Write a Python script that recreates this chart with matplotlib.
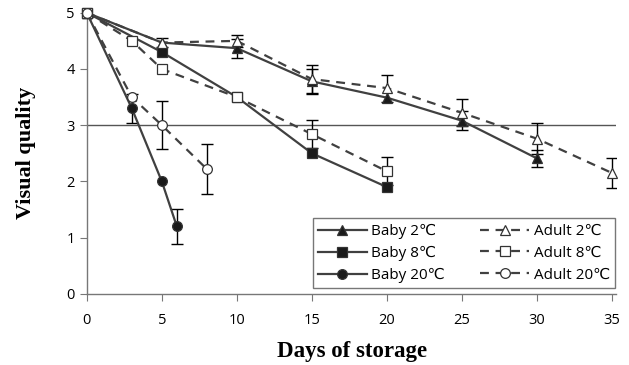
import numpy as np
from matplotlib import pyplot as plt

plt.rcParams['font.family'] = ['Open Sans', 'DejaVu Sans']

## Data ##
days_b2 = [0, 5, 10, 15, 20, 25, 30]
baby_2 = [5, 4.47, 4.37, 3.78, 3.49, 3.08, 2.41]
err_b2 = [0, 0, 0.17, 0.22, 0, 0.17, 0.15]

days_a2 = [0, 5, 10, 15, 20, 25, 30, 35]
adult_2 = [5, 4.47, 4.5, 3.82, 3.66, 3.22, 2.76, 2.15]
err_a2 = [0, 0.08, 0.1, 0.25, 0.24, 0.24, 0.28, 0.27]

days_b8 = [0, 5, 10, 15, 20]
baby_8 = [5, 4.3, 3.5, 2.5, 1.9]
err_b8 = [0, 0, 0, 0, 0]

days_a8 = [0, 3, 5, 10, 15, 20]
adult_8 = [5, 4.5, 4.0, 3.5, 2.84, 2.18]
err_a8 = [0, 0, 0, 0, 0.25, 0.25]

days_b20 = [0, 3, 5, 6]
baby_20 = [5, 3.3, 2.0, 1.2]
err_b20 = [0, 0.26, 0, 0.31]

days_a20 = [0, 3, 5, 8]
adult_20 = [5, 3.5, 3.0, 2.22]
err_a20 = [0, 0, 0.43, 0.44]

## Plotting ##
fig = plt.figure(figsize=(6.29, 3.65), dpi=100)
ax = fig.add_axes([0.138, 0.195, 0.842, 0.77])

ax.axhline(3, color='#555555', lw=1.0, zorder=1)

grey = '#404040'
series = [
    (days_b2, baby_2, err_b2, '^', 'black', '-', 'Baby 2\u2103'),
    (days_b8, baby_8, err_b8, 's', 'black', '-', 'Baby 8\u2103'),
    (days_b20, baby_20, err_b20, 'o', 'black', '-', 'Baby 20\u2103'),
    (days_a2, adult_2, err_a2, '^', 'white', (0, (4, 3)), 'Adult 2\u2103'),
    (days_a8, adult_8, err_a8, 's', 'white', (0, (4, 3)), 'Adult 8\u2103'),
    (days_a20, adult_20, err_a20, 'o', 'white', (0, (4, 3)), 'Adult 20\u2103'),
]

handles = []
for x, y, e, m, fc, ls, lab in series:
    x = np.array(x)
    y = np.array(y)
    e = np.array(e)
    mask = e > 0
    ax.errorbar(x[mask], y[mask], yerr=e[mask], fmt='none', ecolor='black',
                elinewidth=1.0, capsize=4, capthick=1.0, zorder=2)
    h, = ax.plot(x, y, color=grey, lw=1.6, ls=ls, marker=m, markersize=7,
                 markerfacecolor=fc if fc == 'white' else '#1a1a1a',
                 markeredgecolor='#333333', markeredgewidth=0.9,
                 label=lab, clip_on=False, zorder=3)
    handles.append(h)

ax.set_xlim(0, 35.3)
ax.set_ylim(0, 5)
ax.set_xticks(np.arange(0, 36, 5))
ax.set_yticks(np.arange(0, 6, 1))
for s in ['top', 'right']:
    ax.spines[s].set_visible(False)
for s in ['left', 'bottom']:
    ax.spines[s].set_color('#777777')
    ax.spines[s].set_linewidth(1.0)
ax.tick_params(direction='out', length=5, color='#777777', labelsize=10.5)
ax.tick_params(axis='x', pad=9)

ax.set_xlabel('Days of storage', family='Liberation Serif', fontweight='bold',
              fontsize=16.5, labelpad=9)
ax.set_ylabel('Visual quality', family='Liberation Serif', fontweight='bold',
              fontsize=16, labelpad=22)

leg = ax.legend(handles=handles, ncol=2, loc='lower right',
                bbox_to_anchor=(0.998, 0.02), borderaxespad=0, fontsize=11,
                frameon=True, fancybox=False, edgecolor='#555555',
                handlelength=3.2, borderpad=0.35, labelspacing=0.45,
                columnspacing=2.3, handletextpad=0.3)
leg.get_frame().set_linewidth(1.0)

fig.savefig('out.png', dpi=100)
